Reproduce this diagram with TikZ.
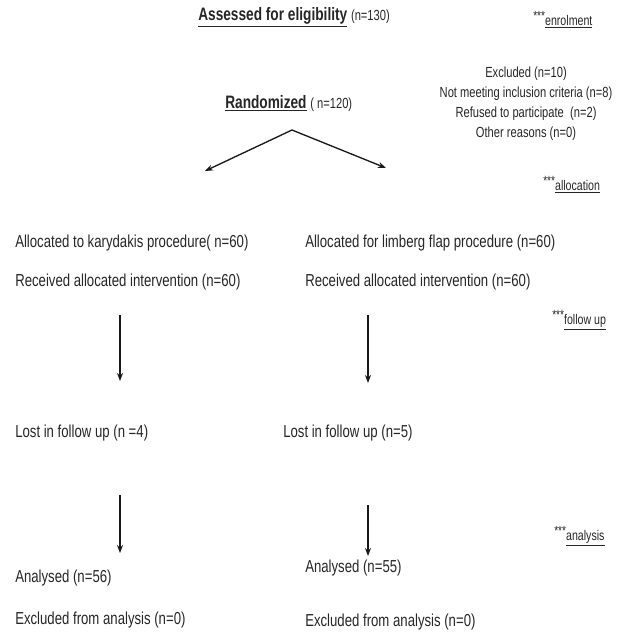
\documentclass[tikz,border=0pt]{standalone}
\usepackage{fontspec}
\setmainfont{Liberation Sans}[FakeStretch=0.76]
\usetikzlibrary{arrows.meta}

\newcommand{\stars}{\raisebox{0.6ex}{\fontsize{10}{10}\selectfont***}}

\begin{document}
\begin{tikzpicture}[x=0.75pt,y=-0.75pt]
        \tikzstyle{txt}=[anchor=west, inner sep=0pt, text=black!85, font=\fontsize{13}{15}\selectfont]
        \tikzstyle{head}=[anchor=west, inner sep=0pt, text=black!85, font=\fontsize{13.5}{15}\selectfont]
        \tikzstyle{small}=[inner sep=0pt, text=black!85, align=center, font=\fontsize{11}{15}\selectfont]
        \tikzstyle{tag}=[anchor=west, inner sep=0pt, text=black!85, font=\fontsize{10.5}{12}\selectfont]
        \tikzstyle{arr}=[-{Stealth[length=6pt,width=4.5pt]}, line width=1pt, black!90]
        \useasboundingbox (0,0) rectangle (618,635);

        % Nodes
        \node[head] (assess) at (198,17) {\textbf{\underline{Assessed for eligibility}} {\fontsize{11}{12}\selectfont(n=130)}};
        \node[tag] (enrol) at (533,20) {\stars\underline{enrolment}};

        \node[small] (excl) at (526,104) {Excluded (n=10)\\Not meeting inclusion criteria (n=8)\\Refused to participate\ \ (n=2)\\Other reasons (n=0)};

        \node[head] (rand) at (225,103) {\textbf{\underline{Randomized}} {\fontsize{11}{12}\selectfont( n=120)}};
        \node[tag] (alloc) at (543,185) {\stars\underline{allocation}};

        \node[txt] (karyA) at (15,243) {Allocated to karydakis procedure( n=60)};
        \node[txt] (karyB) at (15,282) {Received allocated intervention (n=60)};
        \node[txt] (limbA) at (305,243) {Allocated for limberg flap procedure (n=60)};
        \node[txt] (limbB) at (305,282) {Received allocated intervention (n=60)};

        \node[tag] (follow) at (552,320) {\stars\underline{follow up}};

        \node[txt] (lostL) at (15,433) {Lost in follow up (n =4)};
        \node[txt] (lostR) at (283,433) {Lost in follow up (n=5)};

        \node[tag] (anal) at (554,536) {\stars\underline{analysis}};

        \node[txt] (anaL) at (15,578) {Analysed (n=56)};
        \node[txt] (exL) at (15,620) {Excluded from analysis (n=0)};
        \node[txt] (anaR) at (305,568) {Analysed (n=55)};
        \node[txt] (exR) at (305,622) {Excluded from analysis (n=0)};

        % Arrow ends
        \coordinate (split) at (292,130);
        \coordinate (forkL) at (205,171);
        \coordinate (forkR) at (386,168);
        \coordinate (upL1) at (120,315);
        \coordinate (dnL1) at (120,381);
        \coordinate (upR1) at (368,315);
        \coordinate (dnR1) at (368,383);
        \coordinate (upL2) at (120,495);
        \coordinate (dnL2) at (120,553);
        \coordinate (upR2) at (368,505);
        \coordinate (dnR2) at (368,556);

        % Edges
        \draw[arr] (split) -- (forkL);
        \draw[arr] (split) -- (forkR);
        \draw[arr] (upL1) -- (dnL1);
        \draw[arr] (upR1) -- (dnR1);
        \draw[arr] (upL2) -- (dnL2);
        \draw[arr] (upR2) -- (dnR2);

\end{tikzpicture}
\end{document}
